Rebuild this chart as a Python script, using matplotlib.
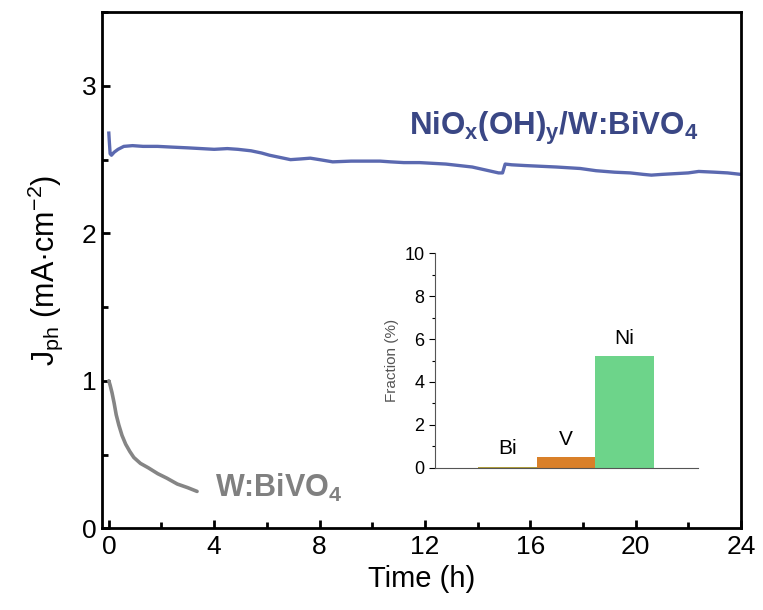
import numpy as np
import matplotlib.pyplot as plt
from matplotlib.ticker import MultipleLocator

plt.rcParams['font.family'] = ['Liberation Sans', 'DejaVu Sans']
plt.rcParams['mathtext.fontset'] = 'custom'
plt.rcParams['mathtext.rm'] = 'Liberation Sans'
plt.rcParams['mathtext.bf'] = 'Liberation Sans:bold'

# NiOx(OH)y/W:BiVO4 photocurrent (h, mA cm-2)
t_nio = [0.0, 0.02, 0.05, 0.1, 0.2, 0.35, 0.57, 0.9, 1.3, 1.85, 2.4, 3.0, 3.5,
         4.0, 4.5, 4.9, 5.4, 5.8, 6.1, 6.5, 6.9, 7.3, 7.65, 8.0, 8.5, 9.2,
         9.8, 10.3, 10.7, 11.2, 11.8, 12.3, 12.8, 13.3, 13.8, 14.3, 14.8,
         14.95, 15.05, 15.3, 15.8, 16.4, 17.0, 17.9, 18.5, 19.2, 19.8, 20.3,
         20.6, 21.0, 21.5, 22.0, 22.4, 23.0, 23.5, 24.0]
j_nio = [2.68, 2.62, 2.54, 2.53, 2.55, 2.57, 2.59, 2.595, 2.59, 2.59, 2.585,
         2.58, 2.575, 2.57, 2.575, 2.57, 2.56, 2.545, 2.53, 2.515, 2.50, 2.505,
         2.51, 2.50, 2.485, 2.49, 2.49, 2.49, 2.485, 2.48, 2.48, 2.475, 2.47,
         2.46, 2.45, 2.43, 2.41, 2.41, 2.47, 2.465, 2.46, 2.455, 2.45, 2.44,
         2.425, 2.415, 2.41, 2.40, 2.395, 2.40, 2.405, 2.41, 2.42, 2.415,
         2.41, 2.40]

# W:BiVO4 photocurrent
t_bvo = [0.0, 0.05, 0.12, 0.2, 0.28, 0.38, 0.5, 0.64, 0.8, 0.95, 1.2, 1.5,
         1.86, 2.2, 2.6, 3.0, 3.35]
j_bvo = [1.0, 0.97, 0.92, 0.85, 0.77, 0.70, 0.63, 0.57, 0.52, 0.48, 0.44,
         0.41, 0.37, 0.34, 0.30, 0.275, 0.25]

# inset: surface fraction
elements = ['Bi', 'V', 'Ni']
fraction = [0.05, 0.5, 5.2]
bar_colors = ['#b3a13c', '#d98029', '#6dd48a']

fig = plt.figure(figsize=(7.63, 6.1), dpi=100)
ax = fig.add_axes([0.134, 0.134, 0.837, 0.846])

ax.plot(t_nio, j_nio, color='#5b69b0', lw=2.4)
ax.plot(t_bvo, j_bvo, color='#858585', lw=2.6, solid_capstyle='round')

ax.set_xlim(-0.25, 24)
ax.set_ylim(0, 3.5)
ax.xaxis.set_major_locator(MultipleLocator(4))
ax.xaxis.set_minor_locator(MultipleLocator(2))
ax.yaxis.set_major_locator(MultipleLocator(1))
ax.yaxis.set_minor_locator(MultipleLocator(0.5))
ax.tick_params(which='both', direction='in', width=2, labelsize=19)
ax.tick_params(which='major', length=6)
ax.tick_params(which='minor', length=4)
ax.tick_params(axis='x', pad=5)
ax.tick_params(axis='y', pad=4)
for s in ax.spines.values():
    s.set_linewidth(2)

ax.set_xlabel('Time (h)', fontsize=21, labelpad=4)
ax.set_ylabel('J$_{\\mathrm{ph}}$ (mA·cm$^{-2}$)', fontsize=22, labelpad=12)

ax.text(16.9, 2.71, 'NiO$_{\\mathbf{x}}$(OH)$_{\\mathbf{y}}$/W:BiVO$_{\\mathbf{4}}$',
        color='#3a4785', fontsize=22.5, fontweight='bold', ha='center', va='center')
ax.text(6.45, 0.27, 'W:BiVO$_{\\mathbf{4}}$', color='#808080', fontsize=22,
        fontweight='bold', ha='center', va='center')

# inset
ins = fig.add_axes([0.570, 0.233, 0.345, 0.352])
xpos = np.arange(len(elements))
ins.bar(xpos, fraction, width=1.0, color=bar_colors)
for x, v, name in zip(xpos, fraction, elements):
    ins.annotate(name, (x, v), xytext=(0, 6), textcoords='offset points',
                 ha='center', va='bottom', fontsize=15)
ins.set_xlim(-1.24, 3.26)
ins.set_ylim(0, 10)
ins.set_xticks([])
ins.yaxis.set_major_locator(MultipleLocator(2))
ins.yaxis.set_minor_locator(MultipleLocator(1))
ins.tick_params(which='both', direction='out', labelsize=13, width=0.8)
ins.tick_params(which='major', length=4)
ins.tick_params(which='minor', length=2)
ins.spines['top'].set_visible(False)
ins.spines['right'].set_visible(False)
ins.spines['left'].set_color('#555555')
ins.spines['bottom'].set_color('#555555')
ins.set_ylabel('Fraction (%)', fontsize=11, color='#555555')
ins.patch.set_alpha(0)

fig.savefig('out.png', dpi=100)
